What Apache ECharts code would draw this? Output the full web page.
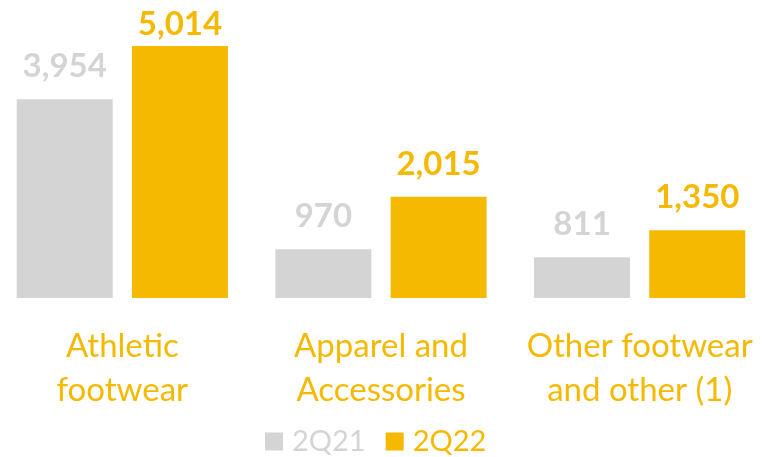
<!DOCTYPE html>
<html>
<head>
<meta charset="utf-8">
<script src="https://cdn.jsdelivr.net/npm/echarts@6/dist/echarts.min.js"></script>
<style>
  html, body { margin: 0; padding: 0; background: #ffffff; }
  #chart { width: 762px; height: 457px; }
</style>
</head>
<body>
<div id="chart"></div>
<script>
// Revenue by product category, 2Q21 vs 2Q22
const categories = ['Athletic\nfootwear', 'Apparel and\nAccessories', 'Other footwear\nand other (1)'];
const seriesNames = ['2Q21', '2Q22'];
const values2Q21 = [3954, 970, 811];
const values2Q22 = [5014, 2015, 1350];

const GRAY = '#D4D4D4';
const YELLOW = '#F4B900';
const FONT = 'Lato, "Open Sans", sans-serif';

function valueLabel(color) {
  return {
    show: true,
    position: 'top',
    distance: 16,
    color: color,
    fontFamily: FONT,
    fontWeight: 'bold',
    fontSize: 33,
    formatter: p => p.value.toLocaleString('en-US')
  };
}

// the tallest bar's label sits a little closer so it stays inside the canvas
function withTopFit(values) {
  const maxV = Math.max(...values2Q21, ...values2Q22);
  return values.map(v => v === maxV ? { value: v, label: { distance: 5 } } : v);
}

const chart = echarts.init(document.getElementById('chart'), null, { renderer: 'canvas' });
chart.setOption({
  animation: false,
  backgroundColor: '#ffffff',
  grid: {
    left: -7, right: -7, top: 0, bottom: 159,
    containLabel: false,
    outerBoundsMode: 'none'
  },
  legend: {
    left: 265,
    top: 427,
    padding: 0,
    itemWidth: 18,
    itemHeight: 18,
    itemGap: 20,
    icon: 'rect',
    data: seriesNames,
    textStyle: {
      fontFamily: FONT,
      fontSize: 29,
      lineHeight: 29,
      padding: [0, 0, 0, 4],
      color: 'inherit'
    }
  },
  xAxis: {
    type: 'category',
    data: categories,
    axisLine: { show: false },
    axisTick: { show: false },
    axisLabel: {
      color: YELLOW,
      fontFamily: FONT,
      fontSize: 33,
      lineHeight: 44,
      margin: 26,
      interval: 0
    }
  },
  yAxis: {
    type: 'value',
    min: 0,
    max: 5929,
    show: false,
    splitLine: { show: false }
  },
  series: [
    {
      name: seriesNames[0],
      type: 'bar',
      data: withTopFit(values2Q21),
      barWidth: 96,
      barGap: '20%',
      itemStyle: { color: GRAY },
      label: valueLabel(GRAY)
    },
    {
      name: seriesNames[1],
      type: 'bar',
      data: withTopFit(values2Q22),
      barWidth: 96,
      barGap: '20%',
      itemStyle: { color: YELLOW },
      label: valueLabel(YELLOW)
    }
  ]
});
</script>
</body>
</html>
